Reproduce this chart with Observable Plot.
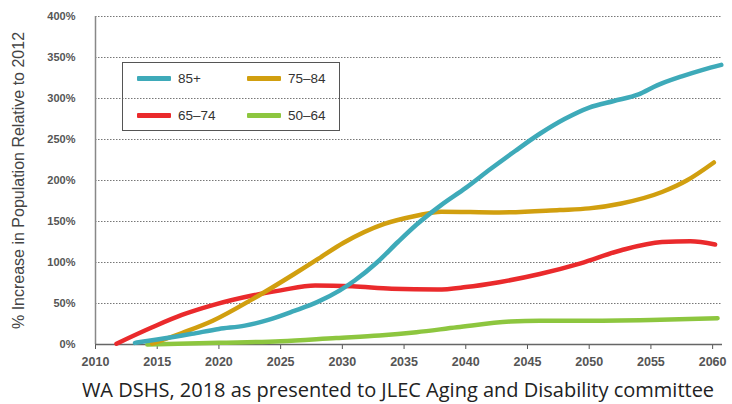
<!DOCTYPE html>
<html><head><meta charset="utf-8">
<script src="https://cdn.jsdelivr.net/npm/d3@7"></script>
<script src="https://cdn.jsdelivr.net/npm/@observablehq/plot@0.6"></script>
<style>
html,body{margin:0;padding:0;background:#fff;}
#wrap{position:relative;width:732px;height:404px;}
#legend{position:absolute;left:122px;top:62px;width:218px;height:69px;border:1.5px solid #555;box-sizing:border-box;font-family:"Liberation Sans",Arial,sans-serif;font-size:13.5px;color:#333;}
.li{position:absolute;display:flex;align-items:center;}
.sw{width:34px;height:5px;border-radius:1px;margin-right:7px;}
#caption{position:absolute;left:0;top:376px;width:732px;padding-left:64px;box-sizing:border-box;text-align:center;font-family:"Open Sans","Noto Sans",sans-serif;font-size:20px;color:#222;white-space:nowrap;}
</style></head><body>
<div id="wrap"><div id="chart"></div><div id="legend"></div><div id="caption">WA DSHS, 2018 as presented to JLEC Aging and Disability committee</div></div>
<script>
const seriesNames = ["85+", "75\u201384", "65\u201374", "50\u201364"];
const seriesColors = ["#3eaab9", "#d19f0f", "#ea2a2c", "#8dc63f"];

const years85 = [2013.2, 2015, 2017.8, 2020, 2022.1, 2024, 2026.1, 2028, 2029.8, 2031, 2032.8, 2034.5, 2036, 2038, 2040, 2042, 2044, 2046, 2048, 2050, 2052, 2054, 2055.5, 2057.5, 2059.2, 2060.7];
const vals85  = [2, 6, 13, 19, 23, 30, 41, 52, 66, 78, 100, 125, 146, 170, 191, 214, 236, 257, 275, 289, 297, 305, 316, 327, 335, 341];

const years75 = [2014.6, 2017, 2019.5, 2022.8, 2026.1, 2028, 2030.1, 2033.4, 2036, 2038, 2042.7, 2047.6, 2050, 2052.6, 2055.9, 2057.9, 2060.1];
const vals75  = [1, 14, 29, 56, 86, 104, 124, 147, 157, 162, 161, 164, 166, 172, 186, 200, 222];

const years65 = [2011.7, 2014.6, 2017, 2019.5, 2022.8, 2025, 2027.8, 2030.8, 2034, 2037.7, 2040, 2042.7, 2046, 2049.3, 2052.6, 2055.9, 2058.2, 2060.2];
const vals65  = [1, 21, 36, 48, 60, 66, 72, 71, 68, 67, 70, 76, 86, 99, 115, 125, 126, 122];

const years50 = [2014.2, 2020, 2025, 2029.5, 2033, 2036, 2039.3, 2043.6, 2046, 2049.3, 2055, 2060.4];
const vals50  = [0, 2, 4, 8, 11, 15, 21, 28, 29, 29, 30, 32];

const xTicks = [2010, 2015, 2020, 2025, 2030, 2035, 2040, 2045, 2050, 2055, 2060];
const yTicks = [0, 50, 100, 150, 200, 250, 300, 350, 400];
const yLabel = "% Increase in Population Relative to 2012";

const allYears = [years85, years75, years65, years50];
const allVals = [vals85, vals75, vals65, vals50];
const rows = [];
allYears.forEach((ys, i) => ys.forEach((y, j) => rows.push({year: y, value: allVals[i][j], group: seriesNames[i]})));
const order = ["50\u201364", "65\u201374", "75\u201384", "85+"];
rows.sort((a, b) => order.indexOf(a.group) - order.indexOf(b.group));

const chart = Plot.plot({
  width: 732,
  height: 372,
  marginLeft: 95,
  marginRight: 10,
  marginTop: 16,
  marginBottom: 28,
  style: {fontFamily: "Liberation Sans, Arial, sans-serif", background: "#fff"},
  x: {domain: [2010, 2060.8], ticks: xTicks, tickFormat: d => String(d), label: null},
  y: {domain: [0, 400], ticks: yTicks, label: null},
  color: {domain: seriesNames, range: seriesColors},
  marks: [
    Plot.gridY(yTicks.filter(d => d > 0), {stroke: "#777", strokeOpacity: 1, strokeWidth: 1, strokeDasharray: "1.5,1.5"}),
    Plot.axisY({ticks: yTicks, tickSize: 0, tickPadding: 20, tickFormat: d => d + "%", fontSize: 11, fontWeight: "bold", fill: "#555", label: null}),
    Plot.axisX({ticks: xTicks, tickSize: 5, tickPadding: 8, tickFormat: d => String(d), fontSize: 12.5, fontWeight: "bold", fill: "#555", stroke: "#555", label: null}),
    Plot.ruleX([2010], {stroke: "#888", strokeWidth: 1.5}),
    Plot.ruleY([0], {stroke: "#666", strokeWidth: 1.5}),
    Plot.line(rows, {x: "year", y: "value", z: "group", stroke: "group", strokeWidth: 4.5, curve: "monotone-x", strokeLinecap: "round", strokeLinejoin: "round"}),
    Plot.text([yLabel], {frameAnchor: "left", dx: -77, rotate: -90, textAnchor: "middle", fontSize: 16, fill: "#444", text: d => d})
  ]
});
document.getElementById("chart").appendChild(chart);

const legend = document.getElementById("legend");
const pos = [[14, 11], [124, 11], [14, 48], [124, 48]];
seriesNames.forEach((n, i) => {
  const d = document.createElement("div");
  d.className = "li";
  d.style.left = pos[i][0] + "px";
  d.style.top = (pos[i][1] - 3) + "px";
  d.innerHTML = `<span class="sw" style="background:${seriesColors[i]}"></span><span>${n}</span>`;
  legend.appendChild(d);
});
</script>
</body></html>
